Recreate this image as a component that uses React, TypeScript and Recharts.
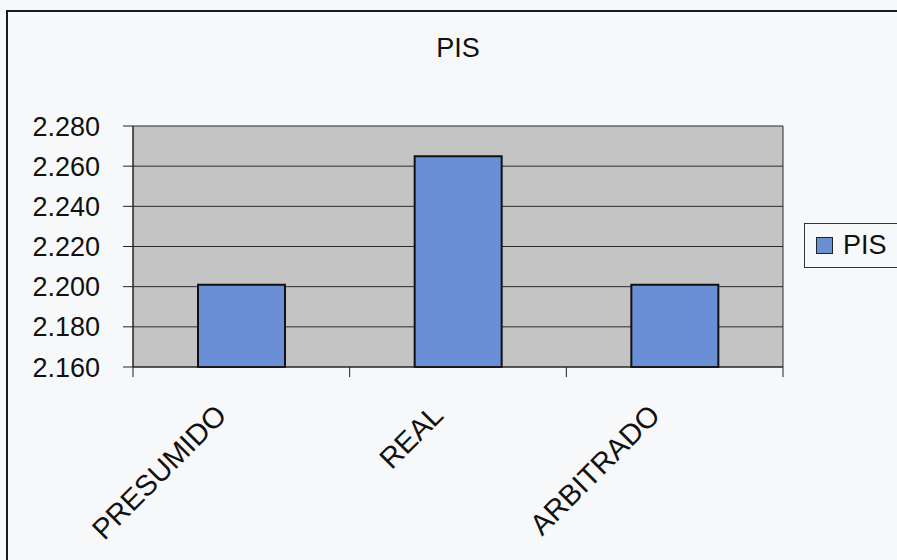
import React from "react";
import { BarChart, Bar, XAxis, YAxis, CartesianGrid } from "recharts";

const categories = ["PRESUMIDO", "REAL", "ARBITRADO"];
const pisValues = [2201, 2265, 2201];
const yTicks = [2160, 2180, 2200, 2220, 2240, 2260, 2280];
const seriesName = "PIS";

const chartData = categories.map((name, i) => ({ name, PIS: pisValues[i] }));

const W = 897;
const H = 560;
const plotLeft = 133;
const plotRight = 783;
const plotTop = 126;
const plotBottom = 367;
const bandWidth = (plotRight - plotLeft) / categories.length;
const font = "'Liberation Sans', Arial, sans-serif";
const barColor = "#6b8fd6";

// 2280 -> "2.280"
function formatThousands(value: number): string {
  const s = String(Math.round(value));
  return s.replace(/\B(?=(\d{3})+(?!\d))/g, ".");
}

function CategoryTick(props: any) {
  const { x, index } = props;
  const axisY = plotBottom;
  const tx = x - 13;
  const ty = plotBottom + 50;
  return (
    <g>
      <line x1={x - bandWidth / 2} y1={axisY} x2={x - bandWidth / 2} y2={axisY + 10} stroke="#222" />
      {index === categories.length - 1 && (
        <line x1={x + bandWidth / 2} y1={axisY} x2={x + bandWidth / 2} y2={axisY + 10} stroke="#222" />
      )}
      <text
        x={tx}
        y={ty}
        textAnchor="end"
        transform={`rotate(-45, ${tx}, ${ty})`}
        fontSize={29}
        fontFamily={font}
        fill="#111"
      >
        {props.payload.value}
      </text>
    </g>
  );
}

export default function App() {
  return (
    <div
      style={{
        position: "absolute",
        left: 0,
        top: 0,
        width: W,
        height: H,
        background: "#f7f8f9",
        overflow: "hidden",
      }}
    >
      <div
        style={{
          position: "absolute",
          left: 6,
          top: 10,
          width: W,
          height: H,
          border: "2px solid #1a1a1a",
        }}
      />
      <div
        style={{
          position: "absolute",
          left: 0,
          width: 2 * 458,
          top: 33,
          textAlign: "center",
          fontFamily: font,
          fontSize: 27,
          color: "#111",
        }}
      >
        PIS
      </div>
      <div style={{ position: "absolute", left: 0, top: 0 }}>
        <BarChart
          width={W}
          height={H}
          data={chartData}
          margin={{ top: plotTop, right: W - plotRight, left: 0, bottom: 0 }}
          barCategoryGap="30%"
        >
          <CartesianGrid
            fill="#c4c4c4"
            stroke="#2a2a2a"
            verticalCoordinatesGenerator={({ offset }: any) => [
              offset.left,
              offset.left + offset.width,
            ]}
          />
          <XAxis
            dataKey="name"
            height={H - plotBottom}
            tickLine={false}
            axisLine={{ stroke: "#222" }}
            tick={<CategoryTick />}
            interval={0}
          />
          <YAxis
            width={plotLeft}
            domain={[2160, 2280]}
            ticks={yTicks}
            tickFormatter={formatThousands}
            tickSize={10}
            tickMargin={23}
            tickLine={{ stroke: "#222" }}
            axisLine={{ stroke: "#222" }}
            tick={{ fill: "#111", fontSize: 27, fontFamily: font }}
            interval={0}
          />
          <Bar
            dataKey="PIS"
            fill={barColor}
            stroke="#111"
            strokeWidth={2}
            isAnimationActive={false}
          />
        </BarChart>
      </div>
      <div
        style={{
          position: "absolute",
          left: 804,
          top: 223,
          width: 100,
          height: 45,
          boxSizing: "border-box",
          border: "1px solid #333",
          display: "flex",
          alignItems: "center",
          paddingLeft: 11,
          fontFamily: font,
          fontSize: 27,
          color: "#111",
        }}
      >
        <span
          style={{
            display: "inline-block",
            width: 15,
            height: 15,
            background: barColor,
            border: "1px solid #222",
            marginRight: 10,
          }}
        />
        {seriesName}
      </div>
    </div>
  );
}
